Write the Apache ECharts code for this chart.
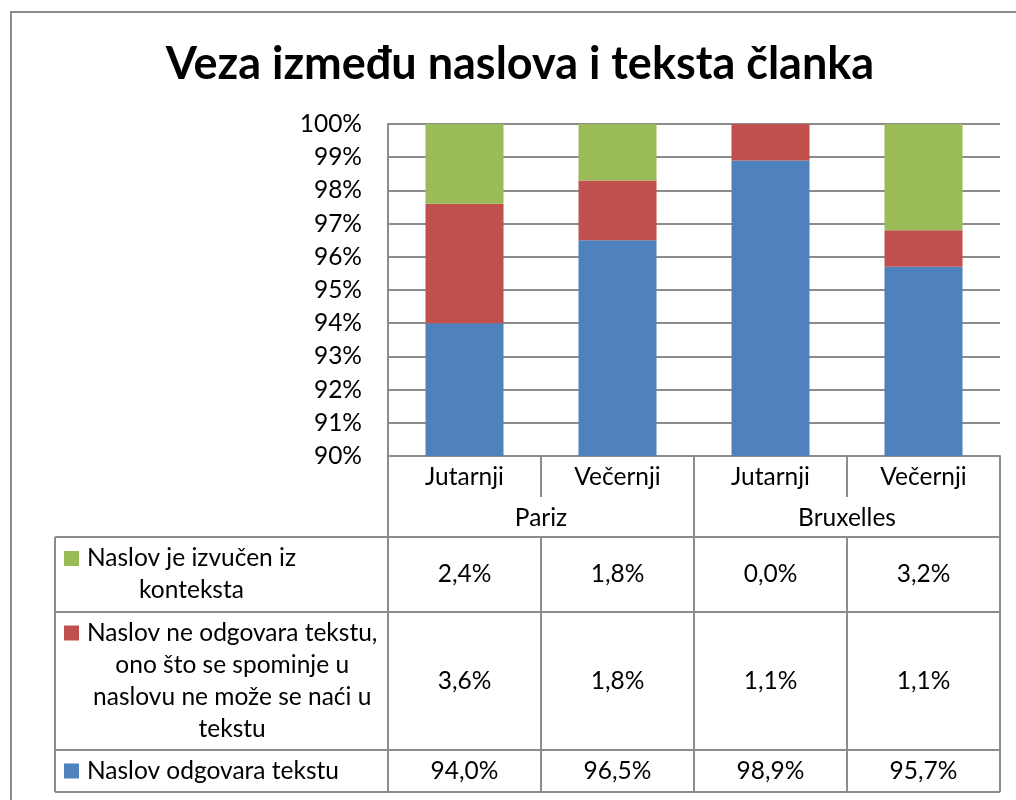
<!DOCTYPE html>
<html>
<head>
<meta charset="utf-8">
<title>Veza između naslova i teksta članka</title>
<script src="https://cdn.jsdelivr.net/npm/echarts@6/dist/echarts.min.js"></script>
<style>
  html, body { margin: 0; padding: 0; background: #fff; }
  #chart { width: 1016px; height: 800px; }
</style>
</head>
<body>
<div id="chart"></div>
<script>
// podaci
var chartTitle = 'Veza između naslova i teksta članka';
var categories = ['Jutarnji', 'Večernji', 'Jutarnji', 'Večernji'];
var groups = ['Pariz', 'Bruxelles'];
var seriesNames = [
  'Naslov odgovara tekstu',
  'Naslov ne odgovara tekstu, ono što se spominje u naslovu ne može se naći u tekstu',
  'Naslov je izvučen iz konteksta'
];
var odgovara = [94.0, 96.5, 98.9, 95.7];
var neOdgovara = [3.6, 1.8, 1.1, 1.1];
var izvucen = [2.4, 1.8, 0.0, 3.2];
var yMin = 90, yMax = 100, yStep = 1;

// izgled
var FONT = 'Lato';
var FS = 24.5;
var LINE = '#8c8c8c';
var colors = ['#4f81bd', '#c0504d', '#9bbb59'];
var gridLeft = 388, gridRight = 1000, gridTop = 124, gridBottom = 456;
var tableLeft = 55, labelLeft = 87, wrapWidth = 294;
var rowLines = [537, 612, 750, 792];
var groupRow = 497;

var values = [odgovara, neOdgovara, izvucen];

function fmt(v) {
  return v.toFixed(1).replace('.', ',') + '%';
}

var ctx = document.createElement('canvas').getContext('2d');
ctx.font = FS + 'px ' + FONT;
function wrap(text, maxW) {
  var words = text.split(' '), lines = [], cur = '';
  words.forEach(function (w) {
    var t = cur ? cur + ' ' + w : w;
    if (cur && ctx.measureText(t).width > maxW) {
      lines.push(cur);
      cur = w;
    } else {
      cur = t;
    }
  });
  if (cur) lines.push(cur);
  return lines;
}

var myChart = echarts.init(document.getElementById('chart'));

myChart.setOption({
  animation: false,
  textStyle: { fontFamily: FONT },
  grid: {
    left: gridLeft,
    right: 1016 - gridRight,
    top: gridTop,
    bottom: 800 - gridBottom
  },
  xAxis: [
    {
      type: 'category',
      data: categories,
      axisLine: { lineStyle: { color: LINE, width: 2 } },
      axisTick: { show: false },
      axisLabel: { color: '#000', fontSize: FS, margin: 9, interval: 0 }
    },
    {
      type: 'category',
      data: groups,
      position: 'bottom',
      offset: 41,
      axisLine: { show: false },
      axisTick: { show: false },
      axisLabel: { color: '#000', fontSize: FS, margin: 9, interval: 0 }
    }
  ],
  yAxis: {
    type: 'value',
    min: yMin,
    max: yMax,
    interval: yStep,
    axisLine: { show: true, lineStyle: { color: LINE, width: 2 } },
    axisTick: { show: false },
    axisLabel: {
      color: '#000',
      fontSize: FS,
      margin: 26,
      formatter: function (v) { return v + '%'; }
    },
    splitLine: { lineStyle: { color: LINE, width: 2 } }
  },
  series: seriesNames.map(function (name, i) {
    return {
      name: name,
      type: 'bar',
      stack: 'ukupno',
      clip: true,
      barCategoryGap: '49%',
      itemStyle: { color: colors[i] },
      data: values[i]
    };
  })
});

// tablica s podacima ispod grafa
var g = [];
function line(x1, y1, x2, y2) {
  g.push({
    type: 'line',
    shape: { x1: x1, y1: y1, x2: x2, y2: y2 },
    style: { stroke: LINE, lineWidth: 2 },
    z: 10
  });
}

g.push({
  type: 'rect',
  shape: { x: 11, y: 12, width: 1100, height: 1000 },
  style: { fill: 'none', stroke: LINE, lineWidth: 2 }
});
g.push({
  type: 'text',
  x: 520,
  y: 64,
  style: {
    text: chartTitle,
    font: 'bold 45px ' + FONT,
    fill: '#000',
    align: 'center',
    verticalAlign: 'middle'
  }
});

var colW = (gridRight - gridLeft) / categories.length;
var centers = categories.map(function (c, i) {
  return myChart.convertToPixel({ xAxisIndex: 0 }, i);
});

// okvir tablice
line(gridLeft, gridTop, gridLeft, rowLines[3]);
line(gridRight, gridBottom, gridRight, rowLines[3]);
line(tableLeft, rowLines[0], tableLeft, rowLines[3]);
rowLines.forEach(function (y) { line(tableLeft, y, gridRight, y); });
for (var c = 1; c < categories.length; c++) {
  var x = gridLeft + colW * c;
  if (c % 2 === 0) {
    line(x, gridBottom, x, rowLines[3]);
  } else {
    line(x, gridBottom, x, groupRow);
    line(x, rowLines[0], x, rowLines[3]);
  }
}

// redovi: odozgo zeleni, crveni, plavi
[2, 1, 0].forEach(function (s, r) {
  var top = rowLines[r], bottom = rowLines[r + 1];
  var mid = (top + bottom) / 2;
  var lines = wrap(seriesNames[s], wrapWidth);
  var maxW = Math.max.apply(null, lines.map(function (l) { return ctx.measureText(l).width; }));
  var lh = 32;
  var firstY = mid - (lines.length - 1) * lh / 2;
  g.push({
    type: 'rect',
    shape: { x: 64, y: firstY - 7.5, width: 15, height: 15 },
    style: { fill: colors[s] }
  });
  g.push({
    type: 'text',
    x: labelLeft + maxW / 2,
    y: mid,
    style: {
      text: lines.join('\n'),
      font: FS + 'px ' + FONT,
      lineHeight: lh,
      fill: '#000',
      align: 'center',
      verticalAlign: 'middle'
    }
  });
  values[s].forEach(function (v, i) {
    g.push({
      type: 'text',
      x: centers[i],
      y: mid,
      style: {
        text: fmt(v),
        font: FS + 'px ' + FONT,
        fill: '#000',
        align: 'center',
        verticalAlign: 'middle'
      }
    });
  });
});

myChart.setOption({ graphic: g });
</script>
</body>
</html>
